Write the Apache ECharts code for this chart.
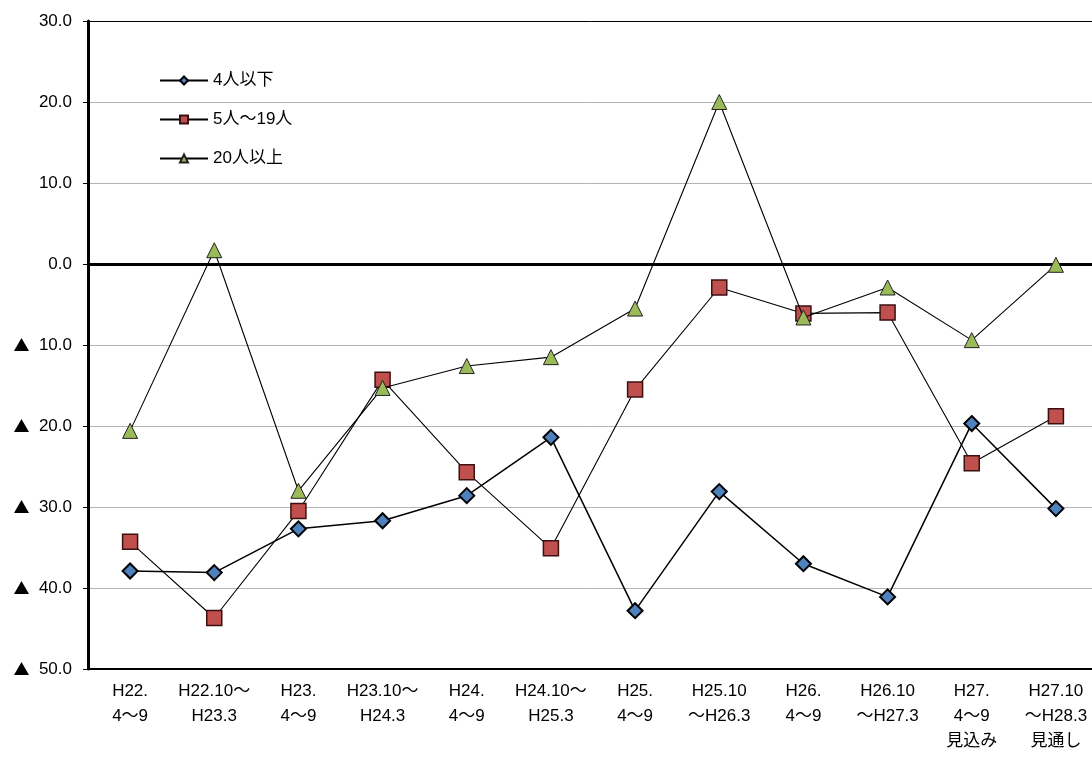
<!DOCTYPE html>
<html>
<head>
<meta charset="utf-8">
<script src="https://cdn.jsdelivr.net/npm/echarts@6/dist/echarts.min.js"></script>
<style>
html,body{margin:0;padding:0;background:#fff;}
#chart{width:1092px;height:758px;}
</style>
</head>
<body>
<div id="chart"></div>
<script>
const categories = [
  'H22.\n4～9', 'H22.10～\nH23.3', 'H23.\n4～9', 'H23.10～\nH24.3',
  'H24.\n4～9', 'H24.10～\nH25.3', 'H25.\n4～9', 'H25.10\n～H26.3',
  'H26.\n4～9', 'H26.10\n～H27.3', 'H27.\n4～9\n見込み', 'H27.10\n～H28.3\n見通し'
];
const seriesNames = ['4人以下', '5人～19人', '20人以上'];
const small = [-37.9, -38.1, -32.7, -31.7, -28.6, -21.4, -42.8, -28.1, -37.0, -41.1, -19.7, -30.2];
const medium = [-34.3, -43.7, -30.5, -14.3, -25.7, -35.1, -15.5, -2.9, -6.1, -6.0, -24.6, -18.8];
const large = [-20.6, 1.7, -28.0, -15.3, -12.6, -11.5, -5.5, 20.0, -6.6, -2.9, -9.4, -0.1];
const yTicks = {min: -50, max: 30, interval: 10};

const FONT = '"Liberation Sans", "Noto Sans CJK JP", sans-serif';
const chart = echarts.init(document.getElementById('chart'), null, {renderer: 'canvas'});

chart.setOption({
  animation: false,
  backgroundColor: '#ffffff',
  textStyle: {fontFamily: FONT, color: '#000'},
  grid: {left: 88, width: 1010, top: 21, height: 648, containLabel: false, outerBoundsMode: 'none'},
  legend: {
    orient: 'vertical',
    left: 159,
    top: 72,
    padding: 0,
    itemWidth: 48,
    itemHeight: 10,
    itemGap: 22,
    textStyle: {fontFamily: FONT, fontSize: 17, color: '#000', letterSpacing: 2},
    data: seriesNames
  },
  xAxis: [{
    type: 'category',
    data: categories,
    boundaryGap: true,
    axisLine: {onZero: false, lineStyle: {color: '#000', width: 2}},
    axisTick: {show: false},
    axisLabel: {fontFamily: FONT, fontSize: 17, color: '#000', lineHeight: 25, margin: 10, interval: 0}
  }, {
    type: 'category',
    position: 'top',
    data: categories,
    axisLine: {onZero: false, lineStyle: {color: '#000', width: 1}},
    axisTick: {show: false},
    axisLabel: {show: false}
  }],
  yAxis: {
    type: 'value',
    min: yTicks.min,
    max: yTicks.max,
    interval: yTicks.interval,
    axisLine: {show: true, lineStyle: {color: '#000', width: 3}},
    axisTick: {show: true, length: 5, lineStyle: {color: '#000', width: 1}},
    splitLine: {show: true, lineStyle: {color: '#b4b4b4', width: 1}},
    axisLabel: {
      fontFamily: FONT, fontSize: 17, color: '#000', margin: 16,
      formatter: function (v) {
        return v < 0 ? '{m|▲}  ' + Math.abs(v).toFixed(1) : v.toFixed(1);
      },
      rich: {
        m: {fontFamily: '"Noto Sans CJK JP", sans-serif', fontSize: 16, color: '#000'}
      }
    }
  },
  series: [{
    name: seriesNames[0],
    type: 'line',
    data: small,
    symbol: 'diamond',
    symbolSize: 15,
    lineStyle: {color: '#000', width: 1.5},
    itemStyle: {color: '#4f81bd', borderColor: '#000', borderWidth: 2},
    markLine: {
      silent: true,
      symbol: 'none',
      label: {show: false},
      lineStyle: {color: '#000', width: 3, type: 'solid'},
      data: [{yAxis: 0}]
    },
    z: 3
  }, {
    name: seriesNames[1],
    type: 'line',
    data: medium,
    symbol: 'rect',
    symbolSize: 15,
    lineStyle: {color: '#000', width: 1.1},
    itemStyle: {color: '#c0504d', borderColor: '#3a1010', borderWidth: 1.5},
    z: 4
  }, {
    name: seriesNames[2],
    type: 'line',
    data: large,
    symbol: 'triangle',
    symbolSize: 15,
    lineStyle: {color: '#000', width: 1.1},
    itemStyle: {color: '#9bbb59', borderColor: '#222', borderWidth: 1},
    z: 5
  }]
});
</script>
</body>
</html>
